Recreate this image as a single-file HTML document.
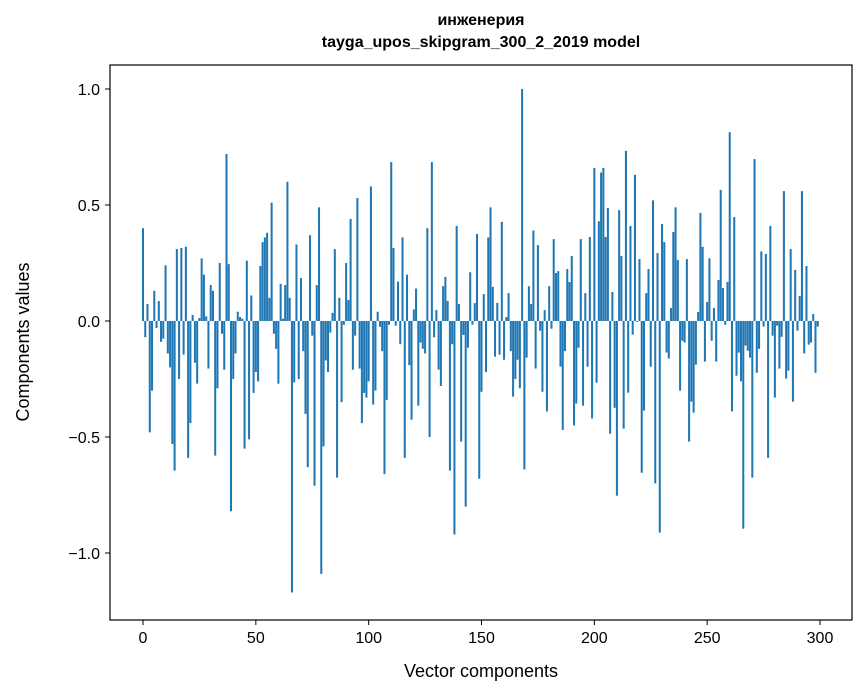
<!DOCTYPE html>
<html><head><meta charset="utf-8"><style>
body{margin:0;background:#fff;}
svg{display:block;font-family:"Liberation Sans","DejaVu Sans",sans-serif;}
</style></head><body>
<svg id="chart" width="867" height="696" viewBox="0 0 867 696">
<rect width="867" height="696" fill="#fff"/>
<text x="481" y="29" text-anchor="middle" font-size="16" font-weight="bold" transform="translate(0,-4)">инженерия</text>
<text x="481" y="51" text-anchor="middle" font-size="16" font-weight="bold" transform="translate(0,-4)">tayga_upos_skipgram_300_2_2019 model</text>
<g id="bars"></g>
<g id="axes"></g>
<rect x="110" y="65" width="742" height="555" fill="none" stroke="#000" stroke-width="1.2"/>
<text x="481" y="677" text-anchor="middle" font-size="18">Vector components</text>
<text transform="translate(29,342) rotate(-90)" text-anchor="middle" font-size="18">Components values</text>
</svg>
<script>
const values = [0.40,-0.07,0.073,-0.48,-0.30,0.13,-0.03,0.086,-0.09,-0.076,0.24,-0.14,-0.20,-0.53,-0.645,0.31,-0.25,0.315,-0.145,0.32,-0.59,-0.44,0.026,-0.18,-0.27,0.013,0.27,0.20,0.02,-0.205,0.155,0.13,-0.58,-0.29,0.25,-0.055,-0.21,0.72,0.245,-0.82,-0.25,-0.14,0.04,0.017,0.01,-0.55,0.26,-0.51,0.11,
-0.31,-0.22,-0.26,0.237,0.34,0.36,0.38,0.10,0.51,-0.055,-0.12,-0.27,0.16,0.01,0.155,0.60,0.10,-1.17,-0.265,0.33,-0.25,0.185,-0.13,-0.40,-0.63,0.37,-0.063,-0.71,0.155,0.49,-1.09,-0.54,-0.17,-0.22,-0.05,0.035,0.31,-0.675,0.10,-0.35,-0.016,0.25,0.09,0.44,-0.21,-0.063,0.53,-0.205,-0.44,-0.31,-0.33,
-0.26,0.58,-0.36,-0.30,0.04,-0.025,-0.13,-0.66,-0.34,-0.016,0.685,0.315,-0.02,0.17,-0.10,0.36,-0.59,0.20,-0.19,-0.425,0.05,0.14,-0.365,-0.093,-0.12,-0.14,0.40,-0.50,0.685,-0.07,0.047,-0.21,-0.28,0.15,0.19,0.086,-0.645,-0.10,-0.92,0.41,0.073,-0.52,-0.06,-0.80,-0.115,0.21,-0.016,0.077,0.375,-0.68,
-0.305,0.116,-0.22,0.36,0.49,0.147,-0.154,0.078,-0.145,0.427,-0.167,0.017,0.12,-0.13,-0.326,-0.25,-0.167,-0.29,1.0,-0.64,-0.158,0.15,0.073,0.39,-0.205,0.327,-0.042,-0.305,0.047,-0.39,0.15,-0.033,0.353,0.207,0.215,-0.197,-0.47,-0.13,0.224,0.168,0.28,-0.45,-0.356,-0.115,0.353,-0.365,0.12,-0.197,0.362,-0.42,
0.66,-0.266,0.43,0.64,0.66,0.362,0.487,-0.486,0.125,-0.374,-0.753,0.478,0.28,-0.464,0.733,-0.309,0.41,-0.059,0.63,-0.004,0.267,-0.654,-0.386,0.12,0.224,-0.197,0.52,-0.70,0.293,-0.912,0.418,0.34,-0.136,-0.162,0.056,0.384,0.49,0.263,-0.30,-0.085,-0.093,0.267,-0.52,-0.348,-0.395,-0.188,0.039,
0.466,0.32,-0.175,0.082,0.27,-0.085,0.056,-0.175,0.177,0.565,0.142,-0.016,0.168,0.814,-0.39,0.448,-0.236,-0.136,-0.26,-0.895,-0.106,-0.128,-0.158,-0.675,0.698,-0.223,-0.12,0.30,-0.024,0.289,-0.59,0.41,-0.063,-0.33,-0.02,-0.205,-0.068,0.56,-0.248,-0.214,0.31,-0.348,0.22,-0.042,0.108,0.56,-0.14,0.237,-0.102,-0.093,0.03,-0.223,-0.024];
const xTicks = [0,50,100,150,200,250,300];
const yTicks = [-1.0,-0.5,0.0,0.5,1.0];
const yTickLabels = ["\u22121.0","\u22120.5","0.0","0.5","1.0"];

const NS="http://www.w3.org/2000/svg";
function xScale(v){return 143 + v*(820-143)/300;}
function yScale(v){return 321 - v*232;}
const bars=document.getElementById('bars');
values.forEach((v,i)=>{
  const r=document.createElementNS(NS,'rect');
  const x0=xScale(i-0.45), x1=xScale(i+0.45);
  const y0=Math.min(yScale(v),yScale(0)), h=Math.abs(yScale(v)-yScale(0));
  r.setAttribute('x',x0);r.setAttribute('width',x1-x0);
  r.setAttribute('y',y0);r.setAttribute('height',Math.max(h,0.3));
  r.setAttribute('fill','#1f77b4');
  
  
  bars.appendChild(r);
});
const axes=document.getElementById('axes');
xTicks.forEach(t=>{
  const x=xScale(t);
  const l=document.createElementNS(NS,'line');
  l.setAttribute('x1',x);l.setAttribute('x2',x);l.setAttribute('y1',620);l.setAttribute('y2',625);
  l.setAttribute('stroke','#000');
  
  
  axes.appendChild(l);
  const tx=document.createElementNS(NS,'text');
  tx.setAttribute('x',x);tx.setAttribute('y',643);tx.setAttribute('text-anchor','middle');tx.setAttribute('font-size','16');
  tx.textContent=t;
  
  
  axes.appendChild(tx);
});
yTicks.forEach((t,i)=>{
  const y=yScale(t);
  const l=document.createElementNS(NS,'line');
  l.setAttribute('x1',105);l.setAttribute('x2',110);l.setAttribute('y1',y);l.setAttribute('y2',y);
  l.setAttribute('stroke','#000');
  
  
  axes.appendChild(l);
  const tx=document.createElementNS(NS,'text');
  tx.setAttribute('x',100);tx.setAttribute('y',y+6);tx.setAttribute('text-anchor','end');tx.setAttribute('font-size','16');
  tx.textContent=yTickLabels[i];
  
  
  axes.appendChild(tx);
});
</script>
</body></html>
